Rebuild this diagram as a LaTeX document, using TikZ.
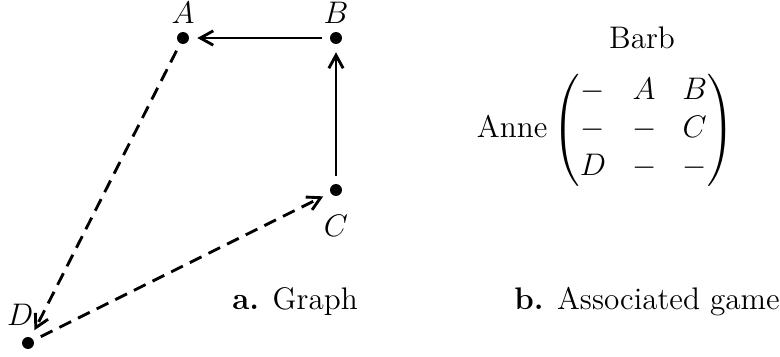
\documentclass[12pt,tikz,border=0pt]{standalone}
\usepackage{amsmath}
\usetikzlibrary{arrows.meta}
\tikzset{
  vtx/.style={circle,fill,inner sep=0pt,minimum size=4.6pt},
  arr/.style={line width=1.1pt,-{Straight Barb[length=5pt,width=5.5pt]},shorten >=3pt,shorten <=3pt},
  dsh/.style={dash pattern=on 5pt off 3pt},
}
\begin{document}
\begin{tikzpicture}[x=0.01352cm,y=-0.01352cm]
  \useasboundingbox (0,0) rectangle (780,356);
  % graph
  \node[vtx,label={[label distance=-1pt]above:$A$}] (A) at (183,38) {};
  \node[vtx,label={[label distance=-1pt]above:$B$}] (B) at (336,38) {};
  \node[vtx,label={[label distance=3pt]below:$C$}] (C) at (336,190) {};
  \node[vtx,label={[xshift=-3pt]above:$D$}] (D) at (28,343) {};
  \draw[arr] (B) -- (A);
  \draw[arr] (C) -- (B);
  \draw[arr,dsh] (A) -- (D);
  \draw[arr,dsh] (D) -- (C);
  \node (capa) at (295,302) {\textbf{a.} Graph};
  % game
  \node[anchor=west] (game) at (466,130) {$\text{Anne}\begin{pmatrix} - & A & B\\ - & - & C\\ D & - & - \end{pmatrix}$};
  \node (barb) at (642,38) {Barb};
  \node (capb) at (647,302) {\textbf{b.} Associated game};
\end{tikzpicture}
\end{document}
